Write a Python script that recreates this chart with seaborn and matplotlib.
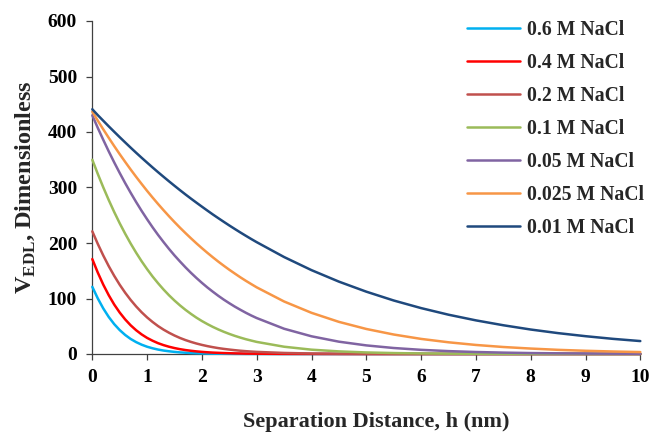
import matplotlib
matplotlib.use("Agg")
import matplotlib.pyplot as plt
import numpy as np
import pandas as pd
import seaborn as sns

# Separation distance h (nm): 0.1 nm steps up to 3 nm, then 0.5 nm steps
h = [0.0, 0.1, 0.2, 0.3, 0.4, 0.5, 0.6, 0.7, 0.8, 0.9, 1.0,
     1.1, 1.2, 1.3, 1.4, 1.5, 1.6, 1.7, 1.8, 1.9, 2.0,
     2.1, 2.2, 2.3, 2.4, 2.5, 2.6, 2.7, 2.8, 2.9, 3.0,
     3.5, 4.0, 4.5, 5.0, 5.5, 6.0, 6.5, 7.0, 7.5, 8.0, 8.5, 9.0, 9.5, 10.0]

labels = ["0.6 M NaCl", "0.4 M NaCl", "0.2 M NaCl", "0.1 M NaCl",
          "0.05 M NaCl", "0.025 M NaCl", "0.01 M NaCl"]

# Dimensionless EDL interaction energy for each NaCl concentration
v_06 = [121.0, 100.2, 82.1, 66.7, 53.8, 43.1, 34.3, 27.1, 21.4, 16.8, 13.1,
        10.3, 8.0, 6.2, 4.9, 3.8, 2.9, 2.3, 1.8, 1.4, 1.1,
        0.8, 0.6, 0.5, 0.4, 0.3, 0.2, 0.2, 0.1, 0.1, 0.1,
        0.0, 0.0, 0.0, 0.0, 0.0, 0.0, 0.0, 0.0, 0.0, 0.0, 0.0, 0.0, 0.0, 0.0]
v_04 = [171.0, 146.7, 125.0, 105.9, 89.1, 74.7, 62.3, 51.7, 42.8, 35.3, 29.0,
        23.9, 19.5, 16.0, 13.1, 10.7, 8.7, 7.1, 5.8, 4.7, 3.8,
        3.1, 2.5, 2.1, 1.7, 1.4, 1.1, 0.9, 0.7, 0.6, 0.5,
        0.2, 0.1, 0.0, 0.0, 0.0, 0.0, 0.0, 0.0, 0.0, 0.0, 0.0, 0.0, 0.0, 0.0]
v_02 = [221.0, 198.4, 177.5, 158.3, 140.8, 124.8, 110.4, 97.4, 85.7, 75.2, 65.9,
        57.7, 50.3, 43.9, 38.3, 33.3, 28.9, 25.1, 21.8, 18.9, 16.4,
        14.2, 12.3, 10.6, 9.2, 8.0, 6.9, 5.9, 5.1, 4.4, 3.8,
        1.9, 0.9, 0.4, 0.2, 0.1, 0.1, 0.0, 0.0, 0.0, 0.0, 0.0, 0.0, 0.0, 0.0]
v_01 = [350.0, 324.5, 300.3, 277.4, 255.8, 235.6, 216.7, 199.0, 182.5, 167.1, 152.9,
        139.6, 127.5, 116.2, 105.8, 96.3, 87.6, 79.6, 72.3, 65.5, 59.4,
        53.9, 48.8, 44.2, 40.0, 36.2, 32.7, 29.6, 26.7, 24.2, 21.8,
        13.1, 7.8, 4.7, 2.8, 1.7, 1.0, 0.6, 0.4, 0.2, 0.1, 0.1, 0.0, 0.0, 0.0]
v_005 = [430.0, 407.4, 385.9, 365.1, 345.2, 326.2, 307.9, 290.5, 273.8, 257.9, 242.8,
         228.3, 214.6, 201.7, 189.3, 177.6, 166.7, 156.2, 146.3, 137.0, 128.2,
         119.9, 112.2, 104.8, 97.9, 91.5, 85.4, 79.8, 74.4, 69.4, 64.8,
         45.5, 31.9, 22.2, 15.5, 10.8, 7.5, 5.2, 3.6, 2.5, 1.7, 1.2, 0.8, 0.6, 0.4]
v_0025 = [436.7, 420.5, 404.8, 389.5, 374.6, 360.1, 346.1, 332.4, 319.2, 306.4, 293.9,
          281.9, 270.3, 259.1, 248.2, 237.7, 227.6, 217.9, 208.5, 199.4, 190.7,
          182.3, 174.2, 166.4, 159.0, 151.8, 145.0, 138.3, 132.0, 126.0, 120.1,
          94.6, 74.2, 57.9, 45.1, 35.1, 27.2, 21.1, 16.3, 12.6, 9.8, 7.5, 5.8, 4.5, 3.5]
v_001 = [441.0, 430.4, 420.3, 410.2, 400.4, 390.7, 381.2, 371.8, 362.6, 353.6, 344.8,
         336.1, 327.6, 319.3, 311.1, 303.1, 295.2, 287.5, 280.0, 272.7, 265.5,
         258.4, 251.4, 244.7, 238.1, 231.6, 225.3, 219.1, 213.1, 207.2, 201.5,
         174.7, 151.1, 130.4, 112.3, 96.4, 82.7, 70.8, 60.6, 51.8, 44.1, 37.6, 32.1, 27.3, 23.3]

series = [v_06, v_04, v_02, v_01, v_005, v_0025, v_001]
colors = ["#00B0F0", "#FF0000", "#C0504D", "#9BBB59", "#8064A2", "#F79646", "#1F497D"]

x_ticks = list(range(0, 11))
y_ticks = list(range(0, 601, 100))

df = pd.concat(
    [pd.DataFrame({"h": h, "V": vals, "conc": lab}) for lab, vals in zip(labels, series)],
    ignore_index=True,
)

sns.set_style("ticks")
plt.rcParams["font.family"] = ["Liberation Serif", "DejaVu Serif"]
plt.rcParams["font.weight"] = "bold"

fig = plt.figure(figsize=(6.51, 4.32), dpi=100)
ax = fig.add_axes([92.3 / 651, 78 / 432, 548 / 651, 333 / 432])

sns.lineplot(data=df, x="h", y="V", hue="conc", hue_order=labels,
             palette=dict(zip(labels, colors)), linewidth=1.8,
             estimator=None, sort=False, ax=ax)

for line in ax.get_lines():
    line.set_clip_on(False)
    line.set_zorder(3)
    line.set_solid_joinstyle("round")

ax.set_xlim(0, 10)
ax.set_ylim(0, 600)
ax.set_xticks(x_ticks)
ax.set_yticks(y_ticks)

axis_col = "#404040"
for side in ["top", "right"]:
    ax.spines[side].set_visible(False)
for side in ["left", "bottom"]:
    ax.spines[side].set_color(axis_col)
    ax.spines[side].set_linewidth(0.9)
ax.tick_params(axis="both", direction="out", length=4, width=0.9, color=axis_col,
               labelsize=14, labelcolor="black", pad=7)
for lbl in ax.get_xticklabels() + ax.get_yticklabels():
    lbl.set_fontweight("bold")

ax.set_xlabel("Separation Distance, h (nm)", fontsize=16, fontweight="bold")
ax.set_ylabel(r"V$_{\mathregular{EDL}}$, Dimensionless", fontsize=17.5, fontweight="bold")
ax.xaxis.set_label_coords(0.518, -0.175)
ax.yaxis.set_label_coords(-0.10, 0.5)

handles, _ = ax.get_legend_handles_labels()
ax.legend(handles, labels, loc="upper left",
          bbox_to_anchor=(467 / 651, 1 - 20 / 432), bbox_transform=fig.transFigure,
          frameon=False, prop={"size": 14.2, "weight": "bold"},
          handlelength=2.7, handletextpad=0.33, labelspacing=0.66,
          borderpad=0, borderaxespad=0)

fig.savefig("out.png", dpi=100)
